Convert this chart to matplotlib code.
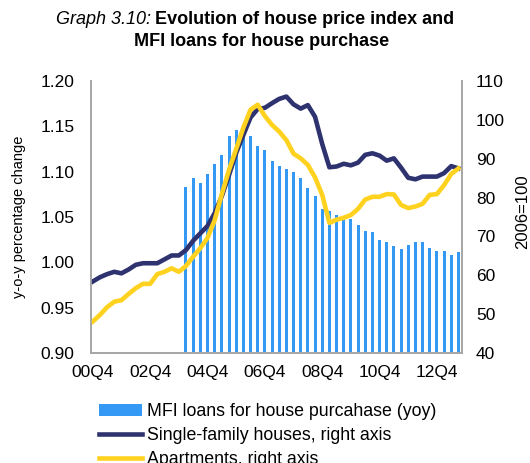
import matplotlib

matplotlib.use("Agg")
import matplotlib.pyplot as plt
from matplotlib.ticker import FormatStrFormatter

plt.rcParams["font.family"] = ["Liberation Sans", "DejaVu Sans"]

# quarters 00Q4 .. 13Q3
quarters = ["00Q4"] + [f"{y:02d}Q{q}" for y in range(1, 14) for q in range(1, 5)][:51]

# MFI loans for house purchase (yoy), from 04Q1
loan_quarters = quarters[13:]
loans = [1.083, 1.093, 1.087, 1.097, 1.108, 1.118, 1.139, 1.146, 1.144, 1.139,
         1.128, 1.124, 1.112, 1.106, 1.103, 1.100, 1.093, 1.082, 1.073, 1.059,
         1.057, 1.052, 1.048, 1.048, 1.041, 1.035, 1.033, 1.025, 1.022, 1.018,
         1.015, 1.019, 1.022, 1.022, 1.016, 1.012, 1.012, 1.008, 1.011]

# house price index, 2006=100
single_family = [58.4, 59.5, 60.3, 60.9, 60.5, 61.5, 62.7, 63.1, 63.1, 63.1,
                 64.1, 65.1, 65.1, 66.5, 68.9, 70.8, 72.7, 76.0, 80.4, 85.8,
                 91.5, 96.1, 100.6, 102.8, 103.1, 104.3, 105.4, 106.0, 104.0, 102.9,
                 103.8, 100.8, 93.8, 87.8, 88.0, 88.7, 88.3, 89.0, 91.0, 91.4,
                 90.8, 89.5, 90.1, 87.7, 85.1, 84.7, 85.4, 85.4, 85.4, 86.3,
                 88.1, 87.5]
apartments = [48.1, 49.8, 51.8, 53.2, 53.6, 55.2, 56.7, 57.8, 57.8, 60.3,
              60.9, 61.8, 60.9, 62.4, 64.8, 67.0, 69.6, 74.2, 80.9, 87.1,
              92.5, 98.0, 102.6, 103.9, 101.0, 98.7, 97.0, 94.8, 91.3, 90.1,
              88.4, 85.2, 80.7, 73.5, 74.3, 74.8, 75.5, 77.1, 79.5, 80.2,
              80.2, 80.9, 80.8, 78.1, 77.3, 77.7, 78.4, 80.7, 80.9, 83.2,
              86.1, 87.5]

tick_labels = ["00Q4", "02Q4", "04Q4", "06Q4", "08Q4", "10Q4", "12Q4"]

BLUE = "#3399F5"
NAVY = "#2E3370"
YELLOW = "#FFD21F"
SPINE = "#A6A6A6"

fig = plt.figure(figsize=(5.3, 4.63), dpi=100)
ax = fig.add_axes([0.1717, 0.2376, 0.7, 0.5874])
ax2 = ax.twinx()

x = list(range(len(quarters)))
loan_x = [quarters.index(q) for q in loan_quarters]

bars = ax.bar(loan_x, loans, width=0.42, color=BLUE, label="MFI loans for house purcahase (yoy)")
l1, = ax2.plot(x, single_family, color=NAVY, lw=3.3, solid_joinstyle="round",
               label="Single-family houses, right axis")
l2, = ax2.plot(x, apartments, color=YELLOW, lw=3.3, solid_joinstyle="round",
               label="Apartments, right axis")

ax.set_xlim(-0.25, 51.5)
ax.set_ylim(0.90, 1.20)
ax2.set_ylim(40, 110)
ax.set_yticks([0.90, 0.95, 1.00, 1.05, 1.10, 1.15, 1.20])
ax.yaxis.set_major_formatter(FormatStrFormatter("%.2f"))
ax2.set_yticks(range(40, 111, 10))
ax.set_xticks([quarters.index(t) for t in tick_labels])
ax.set_xticklabels(tick_labels)

ax.tick_params(axis="both", length=0, labelsize=12.5)
ax.tick_params(axis="y", pad=12)
ax.tick_params(axis="x", pad=9)
ax2.tick_params(axis="y", length=0, labelsize=12.5, pad=10)

for a in (ax, ax2):
    a.spines["top"].set_visible(False)
    for s in ("left", "right", "bottom"):
        a.spines[s].set_color(SPINE)
        a.spines[s].set_linewidth(1.2)

ax.set_ylabel("y-o-y percentage change", fontsize=10.5, va="center")
ax.yaxis.set_label_coords(-0.195, 0.5)
ax2.set_ylabel("2006=100", fontsize=12, va="center")
ax2.yaxis.set_label_coords(1.163, 0.52)

fig.text(151 / 530, 1 - 20 / 463, "Graph 3.10:", style="italic", fontsize=13,
         ha="right", va="center")
fig.text(155 / 530, 1 - 20 / 463, "Evolution of house price index and",
         weight="bold", fontsize=13, ha="left", va="center")
fig.text(262 / 530, 1 - 42 / 463, "MFI loans for house purchase",
         weight="bold", fontsize=13, ha="center", va="center")

fig.legend(handles=[bars, l1, l2], loc="upper left",
           bbox_to_anchor=(92 / 530, 1 - 396 / 463), frameon=False,
           fontsize=12.8, handlelength=2.42, handletextpad=0.3,
           labelspacing=0.4, borderaxespad=0)

fig.savefig("out.png", dpi=100)
